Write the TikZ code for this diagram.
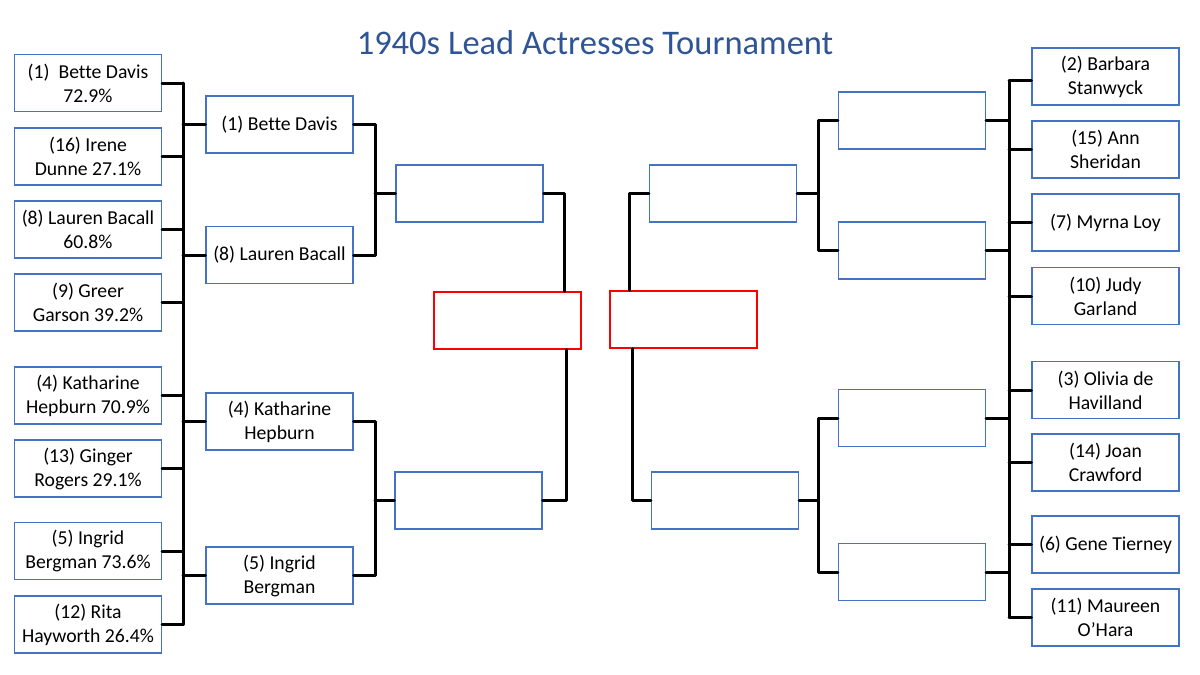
\documentclass[tikz,border=0pt]{standalone}
\usepackage{fontspec}
\setmainfont[Ligatures=NoCommon]{Carlito}
\definecolor{boxblue}{RGB}{68,114,196}
\definecolor{titleblue}{RGB}{47,85,151}
\tikzset{
  box/.style={draw=boxblue, line width=1.1pt, fill=white, minimum width=147pt, minimum height=57pt, inner sep=0pt, align=center, font=\fontsize{19.7}{24}\selectfont},
  finalbox/.style={box, draw=red},
  conn/.style={line width=3pt, line cap=round, line join=round, black}
}
\begin{document}
\begin{tikzpicture}[x=1pt,y=-1pt]
\useasboundingbox (0,0) rectangle (1200,675);
\fill[white] (0,0) rectangle (1200,675);
\node[font=\fontsize{34.5}{40}\selectfont, text=titleblue] (title) at (595,43) {1940s Lead Actresses Tournament};
% left round 1
\node[box] (La1) at (88,83) {(1)\ \ Bette Davis\\72.9\%};
\node[box] (La2) at (88,156.5) {(16) Irene\\Dunne 27.1\%};
\node[box] (La3) at (88,229.5) {(8) Lauren Bacall\\60.8\%};
\node[box] (La4) at (88,302.5) {(9) Greer\\Garson 39.2\%};
\node[box] (La5) at (88,395.5) {(4) Katharine\\Hepburn 70.9\%};
\node[box] (La6) at (88,468.5) {(13) Ginger\\Rogers 29.1\%};
\node[box] (La7) at (88,551) {(5) Ingrid\\Bergman 73.6\%};
\node[box] (La8) at (88,624.5) {(12) Rita\\Hayworth 26.4\%};
% left round 2
\node[box] (Lb1) at (279.5,124.5) {(1) Bette Davis};
\node[box] (Lb2) at (279.5,255) {(8) Lauren Bacall};
\node[box] (Lb3) at (279.5,421.5) {(4) Katharine\\Hepburn};
\node[box] (Lb4) at (279.5,575.5) {(5) Ingrid\\Bergman};
% left round 3
\node[box] (Lc1) at (469.5,193.5) {};
\node[box] (Lc2) at (468.5,500.5) {};
% finals
\node[finalbox] (LF) at (507.5,320.5) {};
\node[finalbox] (RF) at (683.5,319.5) {};
% right round 3
\node[box] (Rc1) at (723,193.5) {};
\node[box] (Rc2) at (725,500.5) {};
% right round 2
\node[box] (Rb1) at (912,120.5) {};
\node[box] (Rb2) at (912,250.5) {};
\node[box] (Rb3) at (912,418) {};
\node[box] (Rb4) at (912,572) {};
% right round 1
\node[box] (Ra1) at (1105.5,76.5) {(2) Barbara\\Stanwyck};
\node[box] (Ra2) at (1105.5,149.5) {(15) Ann\\Sheridan};
\node[box] (Ra3) at (1105.5,222.5) {(7) Myrna Loy};
\node[box] (Ra4) at (1105.5,296) {(10) Judy\\Garland};
\node[box] (Ra5) at (1105.5,390) {(3) Olivia de\\Havilland};
\node[box] (Ra6) at (1105.5,462.5) {(14) Joan\\Crawford};
\node[box] (Ra7) at (1105.5,544.5) {(6) Gene Tierney};
\node[box] (Ra8) at (1105.5,617.5) {(11) Maureen\\O’Hara};
% spine coordinates
\coordinate (LS1) at (183,0);
\coordinate (LS2) at (375,0);
\coordinate (LS3) at (564,0);
\coordinate (LS3b) at (566,0);
\coordinate (RS3) at (629,0);
\coordinate (RS3b) at (632,0);
\coordinate (RS2) at (818,0);
\coordinate (RS1) at (1009,0);
% left round 1 -> round 2
\draw[conn] (La1.east -| LS1) -- (La8.east -| LS1);
\foreach \n in {1,...,8} {\draw[conn] (La\n.east) -- (La\n.east -| LS1);}
\foreach \n in {1,...,4} {\draw[conn] (Lb\n.west -| LS1) -- (Lb\n.west);}
% left round 2 -> round 3
\draw[conn] (Lb1.east) -- (Lb1.east -| LS2) -- (Lb2.east -| LS2) -- (Lb2.east);
\draw[conn] (Lc1.west -| LS2) -- (Lc1.west);
\draw[conn] (Lb3.east) -- (Lb3.east -| LS2) -- (Lb4.east -| LS2) -- (Lb4.east);
\draw[conn] (Lc2.west -| LS2) -- (Lc2.west);
% left round 3 -> final
\draw[conn] (Lc1.east) -- (Lc1.east -| LS3) -- (LF.north -| LS3);
\draw[conn] (LF.south -| LS3b) -- (Lc2.east -| LS3b) -- (Lc2.east);
% right final -> round 3
\draw[conn] (RF.north -| RS3) -- (Rc1.west -| RS3) -- (Rc1.west);
\draw[conn] (RF.south -| RS3b) -- (Rc2.west -| RS3b) -- (Rc2.west);
% right round 3 -> round 2
\draw[conn] (Rc1.east) -- (Rc1.east -| RS2);
\draw[conn] (Rb1.west) -- (Rb1.west -| RS2) -- (Rb2.west -| RS2) -- (Rb2.west);
\draw[conn] (Rc2.east) -- (Rc2.east -| RS2);
\draw[conn] (Rb3.west) -- (Rb3.west -| RS2) -- (Rb4.west -| RS2) -- (Rb4.west);
% right round 2 -> round 1
\foreach \n in {1,...,4} {\draw[conn] (Rb\n.east) -- (Rb\n.east -| RS1);}
\draw[conn] ([yshift=-4pt]Ra1.west -| RS1) -- (Ra8.west -| RS1);
\draw[conn] ([yshift=-4pt]Ra1.west -| RS1) -- ([yshift=-4pt]Ra1.west);
\foreach \n in {2,...,8} {\draw[conn] (Ra\n.west -| RS1) -- (Ra\n.west);}
\end{tikzpicture}
\end{document}
